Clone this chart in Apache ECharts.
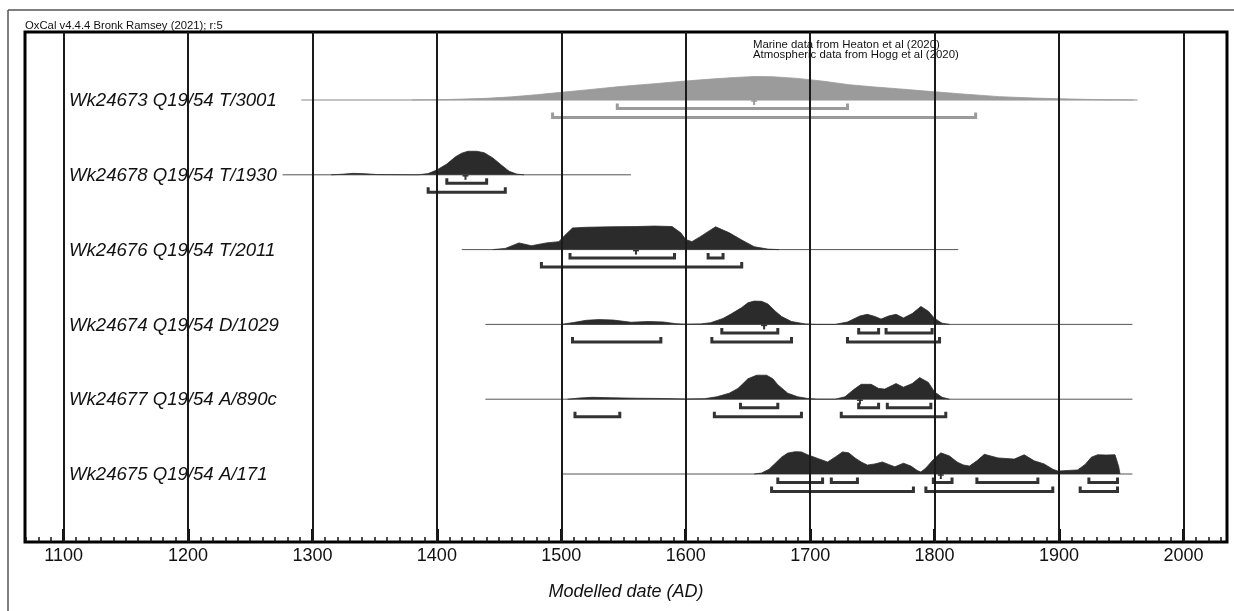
<!DOCTYPE html>
<html>
<head>
<meta charset="utf-8">
<script src="https://cdn.jsdelivr.net/npm/echarts@6/dist/echarts.min.js"></script>
<style>
html,body{margin:0;padding:0;background:#fff;}
#chart{width:1234px;height:611px;}
</style>
</head>
<body>
<div id="chart"></div>
<script>
// ---------------- data ----------------
const labels = [
  'Wk24673 Q19/54 T/3001',
  'Wk24678 Q19/54 T/1930',
  'Wk24676 Q19/54 T/2011',
  'Wk24674 Q19/54 D/1029',
  'Wk24677 Q19/54 A/890c',
  'Wk24675 Q19/54 A/171'
];
const lineStart = [1291, 1276, 1420, 1439, 1439, 1500];
const lineEnd   = [1963, 1556, 1819, 1959, 1959, 1959];
const medians   = [1655, 1423, 1560, 1663, 1740, 1805];
const majorTicks = [1100,1200,1300,1400,1500,1600,1700,1800,1900,2000];
const minorTicks = [1070,1080,1090,1100,1110,1120,1130,1140,1150,1160,1170,1180,1190,1200,1210,1220,1230,1240,1250,1260,1270,1280,1290,1300,1310,1320,1330,1340,1350,1360,1370,1380,1390,1400,1410,1420,1430,1440,1450,1460,1470,1480,1490,1500,1510,1520,1530,1540,1550,1560,1570,1580,1590,1600,1610,1620,1630,1640,1650,1660,1670,1680,1690,1700,1710,1720,1730,1740,1750,1760,1770,1780,1790,1800,1810,1820,1830,1840,1850,1860,1870,1880,1890,1900,1910,1920,1930,1940,1950,1960,1970,1980,1990,2000,2010,2020,2030];

const range68 = [
  [[1545,1730]],
  [[1408,1440]],
  [[1507,1591],[1618,1630]],
  [[1629,1674],[1739,1755],[1761,1798]],
  [[1644,1674],[1739,1755],[1762,1797]],
  [[1674,1710],[1717,1738],[1799,1814],[1834,1883],[1924,1947]]
];
const range95 = [
  [[1493,1833]],
  [[1393,1455]],
  [[1484,1645]],
  [[1509,1580],[1621,1685],[1730,1804]],
  [[1511,1547],[1623,1693],[1725,1809]],
  [[1669,1783],[1793,1895],[1917,1947]]
];

// relative probability densities [year, p]
const dens0 = [[1380,0],[1410,0.02],[1440,0.07],[1460,0.13],[1480,0.22],[1500,0.32],[1520,0.42],[1547,0.56],[1575,0.68],[1600,0.79],[1620,0.87],[1640,0.94],[1656,0.98],[1670,0.97],[1690,0.9],[1711,0.78],[1731,0.64],[1750,0.55],[1770,0.47],[1798,0.35],[1820,0.26],[1852,0.14],[1880,0.08],[1910,0.04],[1935,0.01],[1960,0]];
const dens1 = [[1315,0],[1323,0.02],[1333,0.06],[1343,0.04],[1352,0.01],[1385,0],[1393,0.05],[1400,0.2],[1408,0.45],[1415,0.75],[1420,0.9],[1425,0.98],[1432,0.98],[1438,0.92],[1445,0.7],[1452,0.4],[1458,0.15],[1464,0.03],[1470,0]];
const dens2 = [[1445,0],[1455,0.05],[1466,0.28],[1476,0.16],[1488,0.28],[1498,0.33],[1503,0.6],[1509,0.9],[1520,0.93],[1540,0.95],[1560,0.96],[1575,0.98],[1589,0.96],[1596,0.7],[1600,0.42],[1605,0.33],[1612,0.55],[1624,0.95],[1635,0.7],[1645,0.4],[1655,0.12],[1666,0.02],[1675,0]];
const dens3 = [[1500,0],[1510,0.08],[1520,0.17],[1530,0.2],[1542,0.18],[1556,0.09],[1570,0.12],[1582,0.1],[1592,0.03],[1600,0.01],[1612,0.02],[1620,0.07],[1630,0.25],[1637,0.45],[1645,0.7],[1650,0.9],[1655,0.97],[1661,0.96],[1666,0.85],[1672,0.55],[1677,0.33],[1685,0.12],[1696,0.02],[1705,0],[1720,0],[1730,0.1],[1740,0.35],[1746,0.42],[1752,0.33],[1757,0.22],[1763,0.35],[1769,0.42],[1775,0.27],[1782,0.45],[1789,0.75],[1795,0.55],[1800,0.25],[1806,0.05],[1812,0]];
const dens4 = [[1505,0],[1515,0.05],[1525,0.08],[1540,0.06],[1560,0.04],[1580,0.03],[1600,0.01],[1615,0.02],[1625,0.1],[1635,0.25],[1642,0.45],[1650,0.85],[1657,1.0],[1665,1.0],[1670,0.85],[1674,0.6],[1682,0.25],[1690,0.1],[1698,0.03],[1706,0],[1720,0],[1728,0.1],[1735,0.4],[1741,0.62],[1749,0.62],[1755,0.45],[1760,0.42],[1765,0.55],[1769,0.65],[1775,0.5],[1782,0.65],[1788,0.9],[1795,0.7],[1800,0.3],[1806,0.08],[1812,0]];
const dens5 = [[1655,0],[1661,0.04],[1667,0.2],[1672,0.45],[1677,0.7],[1682,0.87],[1688,0.93],[1693,0.92],[1698,0.8],[1706,0.65],[1714,0.5],[1720,0.7],[1726,0.92],[1731,0.88],[1736,0.67],[1741,0.5],[1746,0.37],[1752,0.42],[1758,0.5],[1763,0.4],[1768,0.3],[1775,0.45],[1781,0.33],[1786,0.15],[1789,0.08],[1793,0.25],[1799,0.6],[1805,0.88],[1812,0.75],[1818,0.5],[1823,0.38],[1828,0.33],[1834,0.55],[1840,0.82],[1851,0.67],[1864,0.62],[1872,0.8],[1880,0.55],[1888,0.42],[1895,0.2],[1899,0.12],[1908,0.15],[1915,0.17],[1921,0.4],[1926,0.7],[1931,0.8],[1938,0.79],[1945,0.8],[1948,0.3],[1949,0]];
const densities = [dens0, dens1, dens2, dens3, dens4, dens5];

// ---------------- layout / style ----------------
const X_MIN = 1069, X_MAX = 2035;
const Y_MIN = -0.909, Y_MAX = 5.909;
const PEAK = 0.321;            // row units for p = 1
const FONT = '"Liberation Sans", Arial, Helvetica, sans-serif';
const GRAY = '#9b9b9b', DARK = '#2b2b2b';

const chart = echarts.init(document.getElementById('chart'), null, {renderer: 'canvas'});

const series = [];

// distributions
densities.forEach((d, row) => {
  series.push({
    type: 'line',
    data: d.map(p => [p[0], row - p[1] * PEAK]),
    showSymbol: false,
    symbol: 'none',
    smooth: false,
    silent: true,
    z: 2,
    lineStyle: {width: 0.8, color: row === 0 ? GRAY : DARK},
    areaStyle: {color: row === 0 ? GRAY : DARK, opacity: 1, origin: row}
  });
});

// baselines
series.push({
  type: 'custom',
  silent: true,
  z: 1,
  data: lineStart.map((s, i) => [s, lineEnd[i], i]),
  encode: {x: [0, 1], y: 2},
  renderItem: (params, api) => {
    const row = api.value(2);
    const a = api.coord([api.value(0), row]);
    const b = api.coord([api.value(1), row]);
    return {type: 'line', shape: {x1: a[0], y1: a[1], x2: b[0], y2: b[1]},
      style: {stroke: row === 0 ? '#8a8a8a' : '#555', lineWidth: 1}};
  }
});

// ranges (brackets)
const bracketData = [];
range68.forEach((rs, row) => rs.forEach(r => bracketData.push([r[0], r[1], row, 68])));
range95.forEach((rs, row) => rs.forEach(r => bracketData.push([r[0], r[1], row, 95])));
series.push({
  type: 'custom',
  silent: true,
  z: 3,
  data: bracketData,
  encode: {x: [0, 1], y: 2},
  renderItem: (params, api) => {
    const row = api.value(2);
    const a = api.coord([api.value(0), row]);
    const b = api.coord([api.value(1), row]);
    const y = a[1] + (api.value(3) === 68 ? 8.5 : 17.5);
    return {type: 'polyline',
      shape: {points: [[a[0], y - 5], [a[0], y], [b[0], y], [b[0], y - 5]]},
      style: {stroke: row === 0 ? GRAY : '#333', lineWidth: 3, fill: null, lineJoin: 'miter'}};
  }
});

// medians
series.push({
  type: 'custom',
  silent: true,
  z: 3,
  data: medians.map((m, i) => [m, i]),
  encode: {x: 0, y: 1},
  renderItem: (params, api) => {
    const row = api.value(1);
    const p = api.coord([api.value(0), row]);
    const c = row === 0 ? GRAY : '#333';
    return {type: 'group', children: [
      {type: 'line', shape: {x1: p[0], y1: p[1], x2: p[0], y2: p[1] + 5}, style: {stroke: c, lineWidth: 2}},
      {type: 'line', shape: {x1: p[0] - 3, y1: p[1] + 1, x2: p[0] + 3, y2: p[1] + 1}, style: {stroke: c, lineWidth: 1.5}}
    ]};
  }
});

// row labels
series.push({
  type: 'custom',
  silent: true,
  z: 4,
  data: labels.map((l, i) => [X_MIN, i]),
  encode: {x: 0, y: 1},
  renderItem: (params, api) => {
    const p = api.coord([api.value(0), api.value(1)]);
    return {type: 'text', x: params.coordSys.x + 44, y: p[1] + 1,
      style: {text: labels[params.dataIndex], font: 'italic 18.6px ' + FONT, fill: '#111',
        textAlign: 'left', textVerticalAlign: 'middle'}};
  }
});

// grid lines at the century ticks
series.push({
  type: 'line',
  data: [],
  silent: true,
  z: 5,
  markLine: {
    silent: true,
    symbol: ['none', 'none'],
    label: {show: false},
    animation: false,
    lineStyle: {color: '#1a1a1a', width: 2, type: 'solid'},
    data: majorTicks.map(v => ({xAxis: v}))
  }
});

const option = {
  animation: false,
  backgroundColor: '#fff',
  grid: {left: 25, right: 7, top: 32, bottom: 69, show: true, borderColor: '#000', borderWidth: 3, backgroundColor: 'transparent'},
  xAxis: [{
    type: 'value', min: X_MIN, max: X_MAX, position: 'bottom',
    axisLine: {show: false, onZero: false},
    splitLine: {show: false},
    axisTick: {show: true, inside: true, length: 5, customValues: minorTicks, lineStyle: {color: '#111', width: 1.5}},
    axisLabel: {show: true, customValues: majorTicks, margin: 5, fontSize: 18, fontFamily: FONT, color: '#111',
      formatter: v => String(v)},
    name: 'Modelled date (AD)', nameLocation: 'middle', nameGap: 41,
    nameTextStyle: {fontSize: 18, fontStyle: 'italic', fontFamily: FONT, color: '#111'}
  }, {
    type: 'value', min: X_MIN, max: X_MAX, position: 'bottom', gridIndex: 0,
    axisLine: {show: false, onZero: false}, splitLine: {show: false}, axisLabel: {show: false},
    axisTick: {show: true, inside: true, length: 13, customValues: majorTicks, lineStyle: {color: '#111', width: 3}}
  }],
  yAxis: {
    type: 'value', inverse: true, min: Y_MIN, max: Y_MAX,
    axisLine: {show: false}, axisTick: {show: false}, axisLabel: {show: false}, splitLine: {show: false}
  },
  graphic: [
    {type: 'line', shape: {x1: 8, y1: 10, x2: 1234, y2: 10}, style: {stroke: '#555', lineWidth: 1.5}, silent: true},
    {type: 'line', shape: {x1: 8, y1: 10, x2: 8, y2: 611}, style: {stroke: '#555', lineWidth: 1.5}, silent: true},
    {type: 'text', left: 25, top: 20, style: {text: 'OxCal v4.4.4 Bronk Ramsey (2021); r:5', font: '11.3px ' + FONT, fill: '#111'}, silent: true},
    {type: 'text', left: 753, top: 39.5, style: {text: 'Marine data from Heaton et al (2020)', font: '11.4px ' + FONT, fill: '#111'}, silent: true, z: 10},
    {type: 'text', left: 753, top: 49, style: {text: 'Atmospheric data from Hogg et al (2020)', font: '11.4px ' + FONT, fill: '#111'}, silent: true, z: 10}
  ],
  series: series
};
chart.setOption(option);
</script>
</body>
</html>
